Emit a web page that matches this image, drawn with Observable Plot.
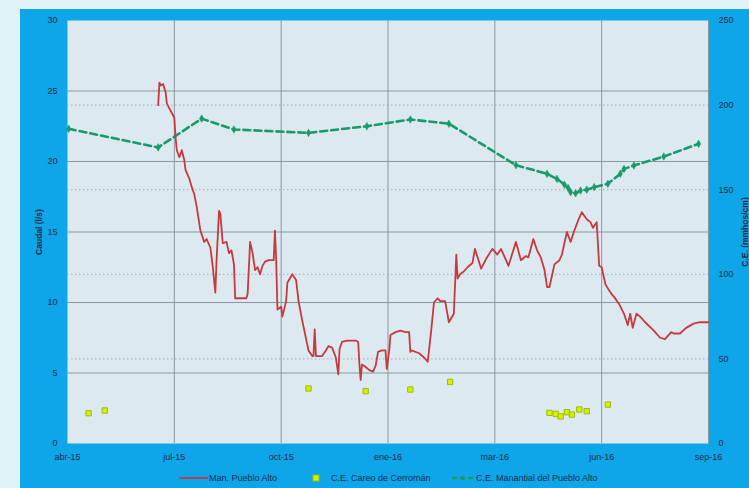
<!DOCTYPE html>
<html><head><meta charset="utf-8">
<script src="https://cdn.jsdelivr.net/npm/d3@7"></script>
<script src="https://cdn.jsdelivr.net/npm/@observablehq/plot@0.6"></script>
<style>
html,body{margin:0;padding:0;background:#dff3f8;width:749px;height:488px;overflow:hidden;font-family:"Liberation Sans",Arial,sans-serif;}
#panel{position:absolute;left:20px;top:9px;width:729px;height:479px;background:#0ea6e8;}
#chart{position:absolute;left:0;top:0;}
#legend{position:absolute;left:0;top:456px;width:729px;height:23px;font-size:9px;color:#1d2b4a;}
#legend .it{position:absolute;top:8px;line-height:10px;white-space:nowrap;}
#legend svg{position:absolute;top:8px;}
</style></head>
<body>
<div id="panel"><div id="chart"></div><div id="legend"></div></div>
<script>
// Tick dates and labels (x axis)
const xTickDates = ["2015-04-20","2015-07-15","2015-10-09","2016-01-03","2016-03-29","2016-06-23","2016-09-17"];
const xTickLabels = ["abr-15","jul-15","oct-15","ene-16","mar-16","jun-16","sep-16"];
const caudalTicks = [0,5,10,15,20,25,30];
const ceTicks = [0,50,100,150,200,250];

// Serie: Man. Pueblo Alto (caudal l/s)
const manDates = ["2015-07-02","2015-07-03","2015-07-04","2015-07-06","2015-07-08","2015-07-09","2015-07-12","2015-07-15","2015-07-16","2015-07-17","2015-07-19","2015-07-21","2015-07-23","2015-07-24","2015-07-27","2015-07-29","2015-07-31","2015-08-02","2015-08-05","2015-08-08","2015-08-10","2015-08-13","2015-08-15","2015-08-17","2015-08-18","2015-08-20","2015-08-21","2015-08-23","2015-08-26","2015-08-28","2015-08-30","2015-09-01","2015-09-02","2015-09-06","2015-09-11","2015-09-12","2015-09-14","2015-09-16","2015-09-18","2015-09-20","2015-09-22","2015-09-24","2015-09-26","2015-09-29","2015-10-03","2015-10-04","2015-10-05","2015-10-06","2015-10-09","2015-10-10","2015-10-13","2015-10-14","2015-10-18","2015-10-21","2015-10-23","2015-10-26","2015-10-31","2015-11-03","2015-11-04","2015-11-05","2015-11-06","2015-11-11","2015-11-14","2015-11-16","2015-11-19","2015-11-22","2015-11-24","2015-11-25","2015-11-27","2015-12-01","2015-12-08","2015-12-10","2015-12-11","2015-12-12","2015-12-13","2015-12-15","2015-12-19","2015-12-22","2015-12-24","2015-12-26","2015-12-29","2016-01-01","2016-01-02","2016-01-04","2016-01-05","2016-01-09","2016-01-13","2016-01-17","2016-01-20","2016-01-21","2016-01-22","2016-01-28","2016-02-01","2016-02-04","2016-02-07","2016-02-09","2016-02-12","2016-02-14","2016-02-18","2016-02-21","2016-02-25","2016-02-27","2016-02-28","2016-03-01","2016-03-04","2016-03-07","2016-03-11","2016-03-13","2016-03-18","2016-03-22","2016-03-27","2016-03-31","2016-04-03","2016-04-09","2016-04-15","2016-04-19","2016-04-23","2016-04-25","2016-04-29","2016-05-02","2016-05-05","2016-05-08","2016-05-10","2016-05-12","2016-05-16","2016-05-20","2016-05-22","2016-05-26","2016-05-29","2016-06-01","2016-06-04","2016-06-07","2016-06-11","2016-06-14","2016-06-16","2016-06-19","2016-06-21","2016-06-23","2016-06-26","2016-06-28","2016-07-01","2016-07-03","2016-07-07","2016-07-11","2016-07-14","2016-07-16","2016-07-18","2016-07-21","2016-07-24","2016-07-28","2016-08-04","2016-08-09","2016-08-13","2016-08-18","2016-08-20","2016-08-25","2016-08-30","2016-09-05","2016-09-10","2016-09-17"];
const manCaudal = [24.0,25.6,25.4,25.5,24.9,24.1,23.6,23.1,21.7,20.8,20.3,20.8,20.1,19.4,18.8,18.2,17.7,16.8,15.1,14.3,14.5,13.9,12.5,10.7,13.0,16.5,16.3,14.2,14.3,13.5,13.7,12.7,10.3,10.3,10.3,10.6,14.3,13.5,12.3,12.5,12.0,12.6,12.9,13.0,13.0,15.1,13.0,9.5,9.7,9.0,10.1,11.4,12.0,11.6,10.1,8.7,6.6,6.2,6.2,8.1,6.2,6.2,6.6,6.9,6.8,6.1,4.9,6.7,7.2,7.3,7.3,7.2,5.6,4.5,5.6,5.5,5.2,5.1,5.5,6.5,6.6,6.6,5.3,6.6,7.7,7.9,8.0,7.9,7.9,6.5,6.6,6.4,6.1,5.8,8.2,10.0,10.3,10.1,10.1,8.6,9.2,13.4,11.7,12.0,12.2,12.5,12.8,13.8,12.4,13.1,13.8,13.4,13.8,12.6,14.3,13.0,13.3,13.2,14.5,13.7,13.2,12.3,11.1,11.1,12.7,13.0,13.4,15.0,14.3,15.1,15.8,16.4,15.9,15.7,15.3,15.7,12.6,12.5,11.3,11.0,10.6,10.4,9.9,9.2,8.4,9.2,8.2,9.2,9.0,8.6,8.0,7.5,7.4,7.9,7.8,7.8,8.2,8.5,8.6,8.6];

// Serie: C.E. Careo de Cerromán
const careoDates = ["2015-05-07","2015-05-20","2015-10-31","2015-12-16","2016-01-21","2016-02-22","2016-05-12","2016-05-17","2016-05-21","2016-05-26","2016-05-30","2016-06-05","2016-06-11","2016-06-28"];
const careoCE = [17.9,19.5,32.5,30.9,31.9,36.4,18.1,17.5,16.0,18.5,17.1,20.1,19.1,23.0];

// Serie: C.E. Manantial del Pueblo Alto
const manantialDates = ["2015-04-21","2015-07-02","2015-08-06","2015-09-01","2015-10-31","2015-12-17","2016-01-21","2016-02-21","2016-04-15","2016-05-10","2016-05-18","2016-05-24","2016-05-27","2016-05-29","2016-06-02","2016-06-06","2016-06-11","2016-06-17","2016-06-28","2016-07-08","2016-07-11","2016-07-19","2016-08-12","2016-09-09"];
const manantialCE = [186,175,192,185.6,183.6,187.5,191.5,189,164.5,159.4,156.4,153,151,148.5,147.9,149.5,150,151.5,153.5,159.4,162.3,164.3,169.6,177.1];

const parse = d3.utcParse("%Y-%m-%d");
const k = 30/250;
const xTicks = xTickDates.map(parse);
const tickLabel = new Map(xTicks.map((d,i)=>[+d, xTickLabels[i]]));
const man = manDates.map((d,i)=>({date:parse(d), q:manCaudal[i]}));
const careo = careoDates.map((d,i)=>({date:parse(d), ce:careoCE[i]}));
const manantial = manantialDates.map((d,i)=>({date:parse(d), ce:manantialCE[i]}));

const RED="#c43a3d", GREEN="#1a9a6c", YEL="#d8f000", YELS="#98bf00", INK="#1d2b4a";

const chart = Plot.plot({
  width:729, height:456,
  marginLeft:47, marginRight:41, marginTop:11, marginBottom:22,
  style:{background:"transparent", fontFamily:"'Liberation Sans',Arial,sans-serif", fontSize:"9px", color:INK, overflow:"visible"},
  x:{type:"utc", domain:[xTicks[0], xTicks[xTicks.length-1]]},
  y:{domain:[0,30]},
  marks:[
    Plot.frame({fill:"#dde9f0", stroke:null}),
    Plot.ruleY(ceTicks.filter(v=>v>0 && v<250).map(v=>v*k), {stroke:"#a3afb6", strokeDasharray:"1.5,2.5", strokeWidth:1}),
    Plot.ruleY(caudalTicks.filter(v=>v>0 && v<30), {stroke:"#8a979f", strokeWidth:1}),
    Plot.ruleX(xTicks.slice(1), {stroke:"#8a979f", strokeWidth:1}),
    Plot.axisX({ticks:xTicks, tickFormat:d=>tickLabel.get(+d), tickSize:0, tickPadding:10, label:null, fill:INK}),
    Plot.axisY({anchor:"left", ticks:caudalTicks, tickSize:0, tickPadding:10, label:null, fill:INK}),
    Plot.axisY({anchor:"right", ticks:ceTicks.map(v=>v*k), tickFormat:d=>String(Math.round(d/k)), tickSize:0, tickPadding:10, label:null, fill:INK}),
    Plot.text(["Caudal (l/s)"], {text:d=>d, frameAnchor:"left", textAnchor:"middle", dx:-28, rotate:-90, fontWeight:"bold", fontSize:8.5, fill:INK}),
    Plot.text(["C.E. (mmhos/cm)"], {text:d=>d, frameAnchor:"right", textAnchor:"middle", dx:37, rotate:-90, fontWeight:"bold", fontSize:8.5, fill:INK}),
    Plot.line(manantial, {x:"date", y:d=>d.ce*k, stroke:GREEN, strokeWidth:2.6, strokeDasharray:"7,4"}),
    Plot.dot(manantial, {x:"date", y:d=>d.ce*k, symbol:"diamond", r:2.3, fill:GREEN, stroke:GREEN, strokeWidth:0.5}),
    Plot.line(man, {x:"date", y:"q", stroke:RED, strokeWidth:1.8, strokeLinejoin:"round"}),
    Plot.dot(careo, {x:"date", y:d=>d.ce*k, symbol:"square", r:3, fill:YEL, stroke:YELS, strokeWidth:1})
  ]
});
document.getElementById("chart").appendChild(chart);

// Legend
const legend = document.getElementById("legend");
legend.innerHTML = `
<svg width="30" height="10" style="left:159px"><line x1="0" y1="5" x2="29" y2="5" stroke="${RED}" stroke-width="1.8"/></svg>
<span class="it" style="left:189px">Man. Pueblo Alto</span>
<svg width="10" height="10" style="left:291px"><rect x="2" y="2" width="6" height="6" fill="${YEL}" stroke="${YELS}" stroke-width="1"/></svg>
<span class="it" style="left:311px">C.E. Careo de Cerromán</span>
<svg width="24" height="10" style="left:432px"><line x1="0" y1="5" x2="22" y2="5" stroke="${GREEN}" stroke-width="2.4" stroke-dasharray="5,3"/><path d="M11,2.2L13.8,5L11,7.8L8.2,5Z" fill="${GREEN}"/></svg>
<span class="it" style="left:456px">C.E. Manantial del Pueblo Alto</span>`;
</script>
</body></html>
